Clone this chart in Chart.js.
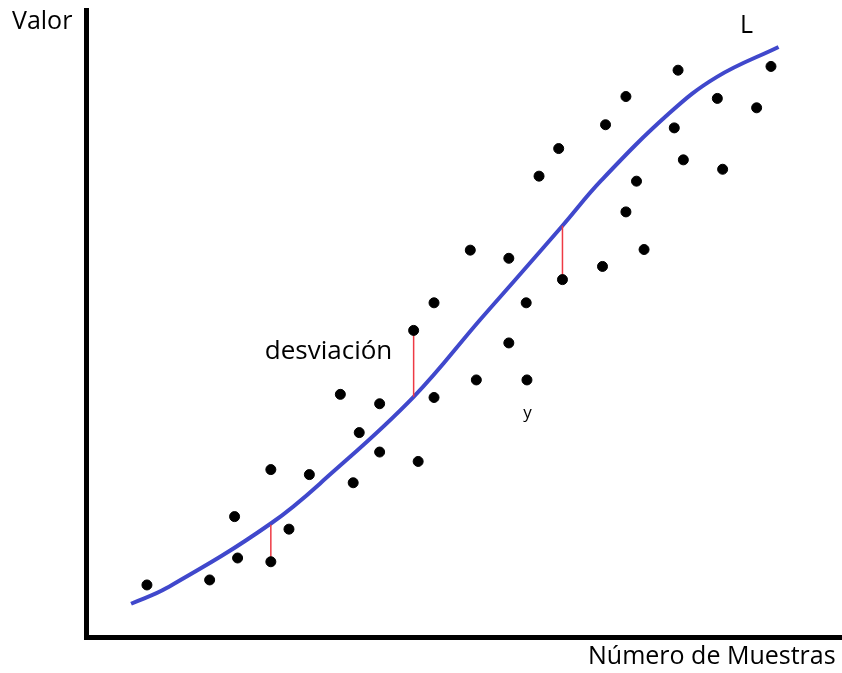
<!DOCTYPE html>
<html>
<head>
<meta charset="utf-8">
<script src="https://cdn.jsdelivr.net/npm/chart.js@4.4.1/dist/chart.umd.min.js"></script>
<style>
  html, body { margin: 0; padding: 0; background: #fff; }
  #wrap { width: 842px; height: 673px; }
</style>
</head>
<body>
<div id="wrap"><canvas id="chart" width="842" height="673"></canvas></div>
<script>
// muestras (x = número de muestra, y = valor)
var sampleX = [8.0, 16.3, 19.6, 20.0, 24.4, 24.4, 26.8, 29.5, 33.6, 35.3, 36.1, 38.8, 38.8,
               43.3, 43.9, 46.0, 46.0, 50.8, 51.6, 55.9, 55.9, 58.2, 58.3, 59.9, 62.5, 63.0,
               68.3, 68.7, 71.4, 71.4, 72.8, 73.8, 77.8, 78.3, 79.0, 83.5, 84.2, 88.7, 90.6];
var sampleY = [8.3, 9.1, 19.2, 12.6, 26.7, 12.0, 17.2, 25.9, 38.7, 24.6, 32.6, 37.2, 29.5,
               48.9, 28.0, 53.3, 38.2, 61.7, 41.0, 60.4, 46.9, 53.3, 41.0, 73.5, 77.9, 57.0,
               59.1, 81.7, 86.2, 67.8, 72.7, 61.8, 81.2, 90.4, 76.1, 85.9, 74.6, 84.4, 91.0];

// curva ajustada L
var curveX = [5.9, 10.6, 24.4, 32.6, 43.3, 52.1, 56.7, 63.0, 68.2, 77.2, 83.4, 91.6];
var curveY = [5.3, 7.8, 18.1, 26.3, 38.3, 50.6, 56.9, 65.6, 72.9, 83.6, 89.3, 94.1];

// desviaciones marcadas: [x, valor de la muestra, valor de la curva]
var devX = [24.4, 43.3, 63.0];
var devFrom = [12.0, 48.9, 57.0];
var devTo = [17.9, 38.3, 65.6];

var dots = sampleX.map(function (x, i) { return { x: x, y: sampleY[i] }; });
var curve = curveX.map(function (x, i) { return { x: x, y: curveY[i] }; });

var datasets = [{
    label: 'muestras',
    data: dots,
    backgroundColor: '#000',
    borderColor: '#000',
    pointRadius: 5,
    pointHoverRadius: 5,
    showLine: false
}];

for (var i = 0; i < devX.length; i++) {
    datasets.push({
        label: 'desviación ' + (i + 1),
        data: [{ x: devX[i], y: devFrom[i] }, { x: devX[i], y: devTo[i] }],
        borderColor: '#ee3a44',
        borderWidth: 1.5,
        pointRadius: 0,
        showLine: true
    });
}

datasets.push({
    label: 'L',
    data: curve,
    borderColor: '#4048cc',
    borderWidth: 4,
    pointRadius: 0,
    showLine: true,
    tension: 0.4
});

var textPlugin = {
    id: 'textos',
    afterDraw: function (chart) {
        var ctx = chart.ctx;
        var xs = chart.scales.x, ys = chart.scales.y;
        ctx.save();
        ctx.fillStyle = '#000';
        ctx.textAlign = 'left';
        ctx.textBaseline = 'alphabetic';
        ctx.font = '25px "Open Sans"';
        ctx.fillText('Valor', 12, 29);
        ctx.fillText('Número de Muestras', 588, 664);
        ctx.fillText('L', xs.getPixelForValue(86.5), ys.getPixelForValue(96.3));
        ctx.font = '26px "Open Sans"';
        ctx.fillText('desviación', xs.getPixelForValue(23.6), ys.getPixelForValue(44.3));
        ctx.font = '17px "Open Sans"';
        ctx.fillText('y', xs.getPixelForValue(57.8), ys.getPixelForValue(34.9));
        ctx.restore();
    }
};

new Chart(document.getElementById('chart').getContext('2d'), {
    type: 'scatter',
    data: { datasets: datasets },
    options: {
        responsive: false,
        animation: false,
        layout: { autoPadding: false, padding: { left: 86.5, top: 10, right: 0, bottom: 36 } },
        plugins: { legend: { display: false }, tooltip: { enabled: false } },
        scales: {
            x: {
                min: 0,
                max: 100,
                grid: { display: false, drawTicks: false },
                ticks: { display: false },
                border: { display: true, color: '#000', width: 5 }
            },
            y: {
                min: 0,
                max: 100,
                grid: { display: false, drawTicks: false },
                ticks: { display: false },
                border: { display: true, color: '#000', width: 5 }
            }
        }
    },
    plugins: [textPlugin]
});
</script>
</body>
</html>
